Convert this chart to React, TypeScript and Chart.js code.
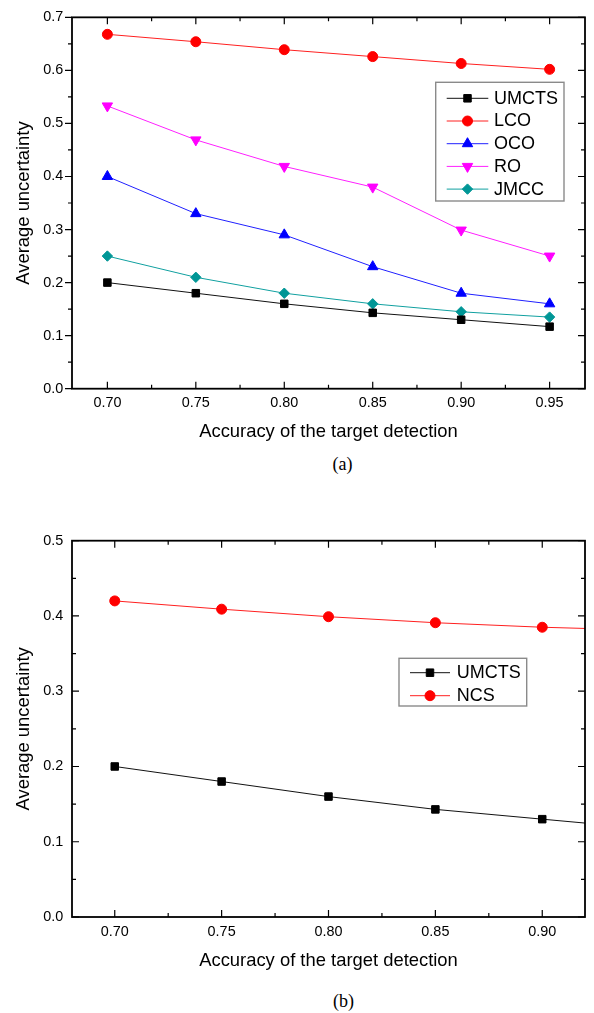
import React, { useEffect, useRef } from 'react';
import { Chart, registerables, PointElement } from 'chart.js';

Chart.register(...registerables);

// ---- data: panel (a) ----
const accuracyA = [0.70, 0.75, 0.80, 0.85, 0.90, 0.95];
const umctsA = [0.200, 0.180, 0.160, 0.143, 0.130, 0.117];
const lcoA = [0.668, 0.654, 0.639, 0.626, 0.613, 0.602];
const ocoA = [0.400, 0.330, 0.290, 0.230, 0.180, 0.160];
const roA = [0.533, 0.469, 0.419, 0.380, 0.299, 0.250];
const jmccA = [0.250, 0.210, 0.180, 0.160, 0.145, 0.135];

// ---- data: panel (b) ----
const accuracyB = [0.70, 0.75, 0.80, 0.85, 0.90, 0.95];
const umctsB = [0.200, 0.180, 0.160, 0.143, 0.130, 0.117];
const ncsB = [0.420, 0.409, 0.399, 0.391, 0.385, 0.381];

// ---- axis ticks ----
const xTicksA = [0.70, 0.75, 0.80, 0.85, 0.90, 0.95];
const xTicksB = [0.70, 0.75, 0.80, 0.85, 0.90];
const yTicksA = [0.0, 0.1, 0.2, 0.3, 0.4, 0.5, 0.6, 0.7];
const yTicksB = [0.0, 0.1, 0.2, 0.3, 0.4, 0.5];

const X_TITLE = 'Accuracy of the target detection';
const Y_TITLE = 'Average uncertainty';

const SANS = '"Liberation Sans", Arial, Helvetica, sans-serif';
const SERIF = '"Liberation Serif", "Times New Roman", serif';

type Series = {
  label: string;
  xs: number[];
  ys: number[];
  color: string;
  line: string;
  pointStyle: string;
  radius: number;
  rotation: number;
};

const seriesA: Series[] = [
  { label: 'UMCTS', xs: accuracyA, ys: umctsA, color: '#000000', line: '#111111', pointStyle: 'rect', radius: 5.3, rotation: 0 },
  { label: 'LCO', xs: accuracyA, ys: lcoA, color: '#ff0000', line: '#ff2020', pointStyle: 'circle', radius: 5, rotation: 0 },
  { label: 'OCO', xs: accuracyA, ys: ocoA, color: '#0000ff', line: '#2020ff', pointStyle: 'triangle', radius: 6, rotation: 0 },
  { label: 'RO', xs: accuracyA, ys: roA, color: '#ff00ff', line: '#ff20ff', pointStyle: 'triangle', radius: 6, rotation: 180 },
  { label: 'JMCC', xs: accuracyA, ys: jmccA, color: '#009696', line: '#10a0a0', pointStyle: 'rectRot', radius: 5.2, rotation: 0 },
];

const seriesB: Series[] = [
  { label: 'UMCTS', xs: accuracyB, ys: umctsB, color: '#000000', line: '#111111', pointStyle: 'rect', radius: 5.3, rotation: 0 },
  { label: 'NCS', xs: accuracyB, ys: ncsB, color: '#ff0000', line: '#ff2020', pointStyle: 'circle', radius: 5, rotation: 0 },
];

const midpoints = (arr: number[]) => arr.slice(1).map((v, i) => (v + arr[i]) / 2);

// Frame around the plot area with inward (or outward) major/minor ticks on all four sides
const frameTicks = {
  id: 'frameTicks',
  afterDatasetsDraw(chart: any, _args: any, o: any) {
    const { ctx, chartArea: a } = chart;
    const xs = chart.scales.x;
    const ys = chart.scales.y;
    ctx.save();
    ctx.strokeStyle = '#000';
    ctx.lineWidth = 1.2;
    ctx.beginPath();
    const seg = (x1: number, y1: number, x2: number, y2: number) => {
      ctx.moveTo(x1, y1);
      ctx.lineTo(x2, y2);
    };
    const xTick = (v: number, len: number) => {
      const p = xs.getPixelForValue(v);
      seg(p, a.bottom, p, a.bottom - len);
      seg(p, a.top, p, a.top + len);
    };
    const yTick = (v: number, len: number) => {
      const p = ys.getPixelForValue(v);
      seg(a.left, p, a.left + (o.leftOut ? -len : len), p);
      seg(a.right, p, a.right - len, p);
    };
    o.xMajor.forEach((v: number) => xTick(v, o.major));
    o.xMinor.forEach((v: number) => xTick(v, o.minor));
    o.yMajor.forEach((v: number) => yTick(v, o.major));
    o.yMinor.forEach((v: number) => yTick(v, o.minor));
    ctx.stroke();
    ctx.lineWidth = 1.8;
    ctx.strokeRect(a.left, a.top, a.right - a.left, a.bottom - a.top);
    ctx.restore();
  },
};

// Boxed legend drawn inside the plot area
const boxLegend = {
  id: 'boxLegend',
  afterDraw(chart: any, _args: any, o: any) {
    const { ctx } = chart;
    ctx.save();
    ctx.fillStyle = '#ffffff';
    ctx.fillRect(o.left, o.top, o.width, o.height);
    ctx.strokeStyle = '#8a8a8a';
    ctx.lineWidth = 1.4;
    ctx.strokeRect(o.left, o.top, o.width, o.height);
    chart.data.datasets.forEach((ds: any, i: number) => {
      const cy = o.top + o.firstRow + i * o.rowGap;
      const x0 = o.left + o.lineStart;
      const x1 = x0 + o.lineLen;
      ctx.strokeStyle = ds.borderColor;
      ctx.lineWidth = 1;
      ctx.beginPath();
      ctx.moveTo(x0, cy);
      ctx.lineTo(x1, cy);
      ctx.stroke();
      const pt = new PointElement({
        x: (x0 + x1) / 2,
        y: cy,
        options: {
          pointStyle: ds.pointStyle,
          rotation: ds.pointRotation,
          radius: ds.pointRadius,
          borderWidth: 1,
          backgroundColor: ds.pointBackgroundColor,
          borderColor: ds.pointBorderColor,
        },
      } as any);
      pt.draw(ctx, undefined as any);
      ctx.fillStyle = '#000';
      ctx.font = `${o.fontSize}px ${SANS}`;
      ctx.textAlign = 'left';
      ctx.textBaseline = 'middle';
      ctx.fillText(ds.label, o.left + o.textStart, cy + 0.5);
    });
    ctx.restore();
  },
};

type PanelSpec = {
  series: Series[];
  xMin: number;
  xMax: number;
  yMax: number;
  xTicks: number[];
  yTicks: number[];
  height: number;
  padTop: number;
  xAxisHeight: number;
  xTitlePad: number;
  leftOut: boolean;
  legend: any;
};

function buildConfig(p: PanelSpec): any {
  return {
    type: 'line',
    data: {
      datasets: p.series.map((s) => ({
        label: s.label,
        data: s.xs.map((x, i) => ({ x, y: s.ys[i] })),
        borderColor: s.line,
        borderWidth: 1,
        pointStyle: s.pointStyle,
        pointRotation: s.rotation,
        pointRadius: s.radius,
        pointBorderWidth: 1,
        pointBackgroundColor: s.color,
        pointBorderColor: s.color,
        tension: 0,
        clip: 0,
      })),
    },
    options: {
      responsive: false,
      animation: false,
      events: [],
      layout: { padding: { top: p.padTop, right: 9, left: 0, bottom: 0 } },
      scales: {
        x: {
          type: 'linear',
          min: p.xMin,
          max: p.xMax,
          afterBuildTicks: (scale: any) => {
            scale.ticks = p.xTicks.map((v) => ({ value: v }));
          },
          afterFit: (scale: any) => {
            scale.height = p.xAxisHeight;
          },
          grid: { display: false, drawTicks: false },
          border: { display: false },
          ticks: {
            padding: 6,
            color: '#000',
            font: { family: SANS, size: 14.4 },
            maxRotation: 0,
            autoSkip: false,
            callback: (v: number) => Number(v).toFixed(2),
          },
          title: {
            display: true,
            text: X_TITLE,
            color: '#000',
            font: { family: SANS, size: 18.4 },
            padding: { top: 0, bottom: p.xTitlePad },
          },
        },
        y: {
          type: 'linear',
          min: 0,
          max: p.yMax,
          afterBuildTicks: (scale: any) => {
            scale.ticks = p.yTicks.map((v) => ({ value: v }));
          },
          afterFit: (scale: any) => {
            scale.width = 72;
          },
          grid: { display: false, drawTicks: false },
          border: { display: false },
          ticks: {
            padding: 8.7,
            color: '#000',
            font: { family: SANS, size: 14.4 },
            autoSkip: false,
            callback: (v: number) => Number(v).toFixed(1),
          },
          title: {
            display: true,
            text: Y_TITLE,
            color: '#000',
            font: { family: SANS, size: 18.4 },
            padding: { top: 13.2, bottom: 0 },
          },
        },
      },
      plugins: {
        legend: { display: false },
        tooltip: { enabled: false },
        frameTicks: {
          xMajor: p.xTicks,
          xMinor: midpoints(p.xTicks),
          yMajor: p.yTicks,
          yMinor: midpoints(p.yTicks),
          major: 7,
          minor: 4,
          leftOut: p.leftOut,
        },
        boxLegend: p.legend,
      },
    },
    plugins: [frameTicks, boxLegend],
  };
}

const panelA: PanelSpec = {
  series: seriesA,
  xMin: 0.68,
  xMax: 0.97,
  yMax: 0.7,
  xTicks: xTicksA,
  yTicks: yTicksA,
  height: 450,
  padTop: 12,
  xAxisHeight: 61.3,
  xTitlePad: 7,
  leftOut: true,
  legend: { left: 435.7, top: 82.3, width: 128.3, height: 118.7, firstRow: 16, rowGap: 22.7, lineStart: 11, lineLen: 41.6, textStart: 58.3, fontSize: 18 },
};

const panelB: PanelSpec = {
  series: seriesB,
  xMin: 0.68,
  xMax: 0.92,
  yMax: 0.5,
  xTicks: xTicksB,
  yTicks: yTicksB,
  height: 480,
  padTop: 40.7,
  xAxisHeight: 63,
  xTitlePad: 7.7,
  leftOut: false,
  legend: { left: 399, top: 158.3, width: 127.7, height: 47.7, firstRow: 14.4, rowGap: 23, lineStart: 11, lineLen: 40, textStart: 57.7, fontSize: 18 },
};

function Panel({ spec, top }: { spec: PanelSpec; top: number }) {
  const ref = useRef<HTMLCanvasElement | null>(null);
  useEffect(() => {
    if (!ref.current) return;
    const chart = new Chart(ref.current, buildConfig(spec));
    return () => chart.destroy();
  }, [spec]);
  return (
    <canvas
      ref={ref}
      width={594}
      height={spec.height}
      style={{ position: 'absolute', left: 0, top, width: 594, height: spec.height }}
    />
  );
}

function Caption({ text, cx, cy }: { text: string; cx: number; cy: number }) {
  return (
    <div
      style={{
        position: 'absolute',
        left: cx - 40,
        top: cy - 10,
        width: 80,
        height: 20,
        lineHeight: '20px',
        textAlign: 'center',
        fontFamily: SERIF,
        fontSize: 18,
        color: '#000',
      }}
    >
      {text}
    </div>
  );
}

export default function App() {
  return (
    <div style={{ position: 'absolute', left: 0, top: 0, width: 594, height: 1013, background: '#fff', overflow: 'hidden' }}>
      <Panel spec={panelA} top={0} />
      <Caption text="(a)" cx={342.5} cy={464} />
      <Panel spec={panelB} top={500} />
      <Caption text="(b)" cx={343.5} cy={1001} />
    </div>
  );
}
